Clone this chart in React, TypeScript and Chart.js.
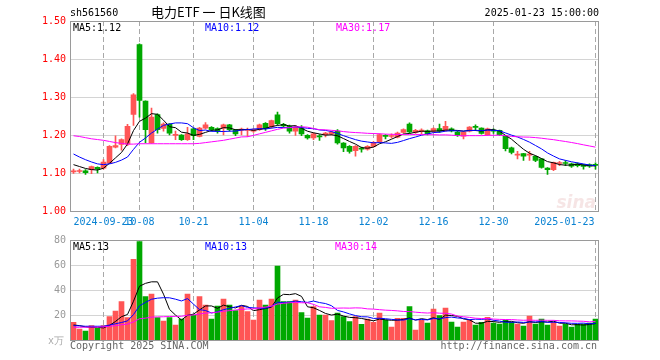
import React, { useEffect, useRef } from "react";
import { Chart, registerables } from "chart.js";

Chart.register(...registerables);

const dates = [
  "2024-09-12","2024-09-13","2024-09-18","2024-09-19","2024-09-20","2024-09-23","2024-09-24","2024-09-25","2024-09-26","2024-09-27","2024-09-30",
  "2024-10-08","2024-10-09","2024-10-10","2024-10-11","2024-10-14","2024-10-15","2024-10-16","2024-10-17","2024-10-18","2024-10-21","2024-10-22","2024-10-23","2024-10-24","2024-10-25","2024-10-28","2024-10-29","2024-10-30","2024-10-31",
  "2024-11-01","2024-11-04","2024-11-05","2024-11-06","2024-11-07","2024-11-08","2024-11-11","2024-11-12","2024-11-13","2024-11-14","2024-11-15","2024-11-18","2024-11-19","2024-11-20","2024-11-21","2024-11-22","2024-11-25","2024-11-26","2024-11-27","2024-11-28","2024-11-29",
  "2024-12-02","2024-12-03","2024-12-04","2024-12-05","2024-12-06","2024-12-09","2024-12-10","2024-12-11","2024-12-12","2024-12-13","2024-12-16","2024-12-17","2024-12-18","2024-12-19","2024-12-20","2024-12-23","2024-12-24","2024-12-25","2024-12-26","2024-12-27","2024-12-30","2024-12-31",
  "2025-01-02","2025-01-03","2025-01-06","2025-01-07","2025-01-08","2025-01-09","2025-01-10","2025-01-13","2025-01-14","2025-01-15","2025-01-16","2025-01-17","2025-01-20","2025-01-21","2025-01-22","2025-01-23"
];

const opens = [
  1.103,1.104,1.106,1.109,1.115,1.113,1.126,1.168,1.175,1.176,1.254,
  1.438,1.289,1.179,1.254,1.217,1.229,1.199,1.200,1.188,1.216,1.196,1.218,1.220,1.217,1.218,1.227,1.214,1.213,
  1.212,1.210,1.214,1.231,1.221,1.253,1.228,1.223,1.210,1.218,1.199,1.192,1.197,1.201,1.203,1.210,1.179,1.170,1.159,1.165,1.163,
  1.170,1.182,1.199,1.196,1.194,1.207,1.229,1.207,1.210,1.211,1.210,1.217,1.212,1.216,1.208,1.197,1.210,1.221,1.218,1.201,1.212,1.212,
  1.197,1.166,1.147,1.151,1.147,1.144,1.137,1.113,1.109,1.125,1.127,1.124,1.124,1.122,1.122,1.121
];
const highs = [
  1.110,1.110,1.109,1.118,1.116,1.135,1.172,1.198,1.190,1.228,1.309,
  1.440,1.290,1.271,1.256,1.232,1.230,1.210,1.201,1.220,1.218,1.220,1.233,1.222,1.219,1.229,1.228,1.215,1.218,
  1.218,1.216,1.229,1.233,1.239,1.260,1.231,1.226,1.224,1.225,1.201,1.206,1.201,1.207,1.210,1.214,1.180,1.172,1.172,1.168,1.172,
  1.183,1.203,1.201,1.203,1.208,1.216,1.232,1.215,1.216,1.213,1.219,1.229,1.236,1.219,1.210,1.209,1.222,1.227,1.219,1.218,1.216,1.213,
  1.198,1.168,1.157,1.152,1.157,1.145,1.138,1.114,1.129,1.131,1.133,1.126,1.127,1.123,1.124,1.127
];
const lows = [
  1.099,1.100,1.096,1.098,1.100,1.110,1.125,1.166,1.160,1.172,1.225,
  1.247,1.179,1.178,1.205,1.210,1.200,1.188,1.186,1.186,1.188,1.195,1.216,1.210,1.205,1.200,1.210,1.198,1.200,
  1.196,1.207,1.212,1.212,1.218,1.226,1.220,1.205,1.199,1.198,1.189,1.188,1.186,1.195,1.200,1.176,1.156,1.152,1.144,1.155,1.160,
  1.168,1.180,1.190,1.192,1.192,1.205,1.205,1.204,1.203,1.200,1.207,1.207,1.210,1.208,1.196,1.190,1.208,1.212,1.202,1.199,1.204,1.199,
  1.158,1.150,1.137,1.133,1.133,1.130,1.113,1.096,1.106,1.119,1.119,1.115,1.116,1.110,1.115,1.110
];
const closes = [
  1.105,1.105,1.101,1.117,1.111,1.129,1.170,1.172,1.188,1.223,1.306,
  1.291,1.214,1.247,1.214,1.229,1.205,1.201,1.188,1.203,1.198,1.218,1.227,1.214,1.211,1.227,1.214,1.203,1.215,
  1.215,1.214,1.227,1.217,1.238,1.230,1.224,1.210,1.221,1.203,1.192,1.203,1.195,1.205,1.208,1.179,1.166,1.157,1.170,1.163,1.170,
  1.181,1.201,1.196,1.197,1.205,1.214,1.208,1.212,1.211,1.203,1.217,1.210,1.223,1.211,1.199,1.208,1.221,1.220,1.204,1.216,1.210,1.201,
  1.164,1.154,1.149,1.144,1.149,1.133,1.115,1.109,1.128,1.126,1.125,1.118,1.119,1.117,1.118,1.120
];
// volume in 万
const volumes = [
  14.1,8.8,7.2,11.5,9.3,11.5,18.7,23.2,30.7,18,
  64.5,78.7,34.7,36.8,17.9,15.2,17.9,12,16.8,36.8,
  20,34.7,28,16.8,27.2,32.8,28,23.5,27.2,22.7,
  16,32,28,32.8,59.2,30.7,30.7,32,21.9,17.6,
  26.7,20,20,15.5,21.6,18.7,14.7,18.7,12.5,16.8,
  14.1,21.6,16,10.4,17.3,17.3,26.7,8,16,13.6,
  24.8,19.5,25.6,14.4,10.4,14.4,16,12,14.1,18.1,
  13.6,12.8,16,14.1,12.8,11.2,19.2,12.8,16.8,12,
  14.4,11.2,12.8,10.4,12.5,12.8,13.6,16.8
];

// moving-average values at the left edge (history before the first visible day)
const ma5Head = [1.122, 1.117, 1.112, 1.109];
const ma10Head = [1.150, 1.142, 1.135, 1.129, 1.124, 1.122, 1.124, 1.128, 1.134];
const ma30Head = [
  1.198,1.196,1.193,1.190,1.188,1.186,1.183,1.180,1.178,1.176,1.176,1.177,1.177,1.177,1.177,
  1.177,1.177,1.177,1.177,1.177,1.177,1.178,1.180,1.182,1.184,1.186,1.189,1.192,1.195
];
const volMa5Head = [12.0, 11.5, 10.5, 10.0];
const volMa10Head = [11.5, 11.3, 11.0, 11.0, 11.0, 11.0, 12.0, 13.0, 14.0];
const volMa30Head = [
  10.2,10.2,10.2,10.3,10.3,10.5,11.0,11.5,12.2,12.7,14.5,17.0,17.5,18.3,18.5,
  18.6,18.8,18.9,19.0,19.8,20.0,20.8,21.5,21.8,22.3,23.0,23.5,24.0,24.5
];

const priceTicks = [1.5, 1.4, 1.3, 1.2, 1.1, 1.0];
const volTicks = [80, 60, 40, 20];
const xTickDates = ["2024-09-23","2024-10-08","2024-10-21","2024-11-04","2024-11-18","2024-12-02","2024-12-16","2024-12-30","2025-01-23"];
const xTickLabels = ["2024-09-23","10-08","10-21","11-04","11-18","12-02","12-16","12-30","2025-01-23"];

const priceLegend = [
  { text: "MA5:1.12", color: "#000000", x: 73 },
  { text: "MA10:1.12", color: "#0000ff", x: 205 },
  { text: "MA30:1.17", color: "#ff00ff", x: 336 },
];
const volLegend = [
  { text: "MA5:13", color: "#000000", x: 73 },
  { text: "MA10:13", color: "#0000ff", x: 205 },
  { text: "MA30:14", color: "#ff00ff", x: 335 },
];

const RED = "#ff5555";
const GREEN = "#00a800";
const GRID = "#a8a8a8";
const BORDER = "#9a9a9a";
const MONO = '10px "DejaVu Sans Mono", "Liberation Mono", monospace';

function movingAvg(arr: number[], n: number, head: number[]) {
  return arr.map((_, i) => {
    if (i < head.length) return head[i];
    let s = 0;
    for (let k = i - n + 1; k <= i; k++) s += arr[k];
    return s / n;
  });
}

const upColors = closes.map((c, i) => (c >= opens[i] ? RED : GREEN));

function drawGrid(chart: any, yTicks: number[]) {
  const { ctx, chartArea: a, scales } = chart;
  ctx.save();
  ctx.strokeStyle = GRID;
  ctx.lineWidth = 1;
  ctx.setLineDash([1, 1]);
  for (const t of yTicks) {
    const y = Math.round(scales.y.getPixelForValue(t)) + 0.5;
    if (y <= a.top + 1 || y >= a.bottom - 1) continue;
    ctx.beginPath();
    ctx.moveTo(a.left, y);
    ctx.lineTo(a.right, y);
    ctx.stroke();
  }
  ctx.setLineDash([5, 3]);
  for (const d of xTickDates) {
    const idx = dates.indexOf(d);
    const x = Math.floor(scales.x.getPixelForValue(idx)) + 0.5;
    ctx.beginPath();
    ctx.moveTo(x, a.top);
    ctx.lineTo(x, a.bottom);
    ctx.stroke();
  }
  ctx.restore();
}

function drawBorder(chart: any) {
  const { ctx, chartArea: a } = chart;
  ctx.save();
  ctx.strokeStyle = BORDER;
  ctx.lineWidth = 1;
  ctx.setLineDash([]);
  const l = Math.floor(a.left) + 0.5;
  const t = Math.floor(a.top) + 0.5;
  const r = Math.floor(a.right) + 0.5;
  const b = Math.floor(a.bottom) + 0.5;
  ctx.strokeRect(l, t, r - l, b - t);
  ctx.restore();
}

const pricePlugin = {
  id: "pricePanel",
  beforeDatasetsDraw(chart: any) {
    drawGrid(chart, priceTicks);
    const { ctx } = chart;
    ctx.save();
    ctx.font = 'italic bold 17px "DejaVu Sans", sans-serif';
    ctx.fillStyle = "rgba(225,170,170,0.3)";
    ctx.textAlign = "right";
    ctx.textBaseline = "alphabetic";
    ctx.fillText("sina", 596, 208);
    ctx.restore();
  },
  afterDatasetsDraw(chart: any) {
    const { ctx, chartArea: a, scales } = chart;
    drawBorder(chart);
    ctx.save();
    ctx.textBaseline = "middle";
    ctx.font = MONO;
    // title row
    ctx.fillStyle = "#000";
    ctx.textAlign = "left";
    ctx.fillText("sh561560", 70, 13);
    ctx.textAlign = "right";
    ctx.fillText("2025-01-23 15:00:00", 599, 13);
    ctx.textAlign = "left";
    ctx.font = '13px "Noto Sans CJK SC", sans-serif';
    ctx.fillText("电力ETF 一 日K线图", 151, 12);
    // y labels
    ctx.font = MONO;
    ctx.textAlign = "right";
    ctx.fillStyle = "#ff0000";
    for (const t of priceTicks) {
      ctx.fillText(t.toFixed(2), 66, scales.y.getPixelForValue(t));
    }
    // legend
    ctx.textAlign = "left";
    for (const g of priceLegend) {
      ctx.fillStyle = g.color;
      ctx.fillText(g.text, g.x, a.top + 7);
    }
    // x labels
    ctx.fillStyle = "#0a82d2";
    xTickDates.forEach((d, k) => {
      const idx = dates.indexOf(d);
      const cx = scales.x.getPixelForValue(idx);
      const w = ctx.measureText(xTickLabels[k]).width;
      let x = cx - w / 2;
      if (x < a.left) x = a.left;
      if (x + w > a.right - 4) x = a.right - 4 - w;
      ctx.fillText(xTickLabels[k], x, a.bottom + 11);
    });
    ctx.restore();
  },
};

const volPlugin = {
  id: "volPanel",
  beforeDatasetsDraw(chart: any) {
    drawGrid(chart, volTicks);
  },
  afterDatasetsDraw(chart: any) {
    const { ctx, chartArea: a, scales } = chart;
    drawBorder(chart);
    ctx.save();
    ctx.textBaseline = "middle";
    ctx.font = MONO;
    ctx.textAlign = "right";
    ctx.fillStyle = "#999999";
    for (const t of volTicks) {
      ctx.fillText(String(t), 66, scales.y.getPixelForValue(t));
    }
    ctx.fillStyle = "#aaaaaa";
    ctx.fillText("x万", 64, a.bottom + 1);
    ctx.textAlign = "left";
    for (const g of volLegend) {
      ctx.fillStyle = g.color;
      ctx.fillText(g.text, g.x, a.top + 7);
    }
    ctx.fillStyle = "#666666";
    ctx.fillText("Copyright 2025 SINA.COM", 70, a.bottom + 6);
    ctx.textAlign = "right";
    ctx.fillText("http://finance.sina.com.cn", 597, a.bottom + 6);
    ctx.restore();
  },
};

function lineDs(data: number[], color: string) {
  return {
    type: "line" as const,
    data,
    borderColor: color,
    borderWidth: 1,
    pointRadius: 0,
    tension: 0,
    fill: false,
    order: 1,
  };
}

export default function App() {
  const priceRef = useRef<HTMLCanvasElement>(null);
  const volRef = useRef<HTMLCanvasElement>(null);

  useEffect(() => {
    const ma5 = movingAvg(closes, 5, ma5Head);
    const ma10 = movingAvg(closes, 10, ma10Head);
    const ma30 = movingAvg(closes, 30, ma30Head);
    const vma5 = movingAvg(volumes, 5, volMa5Head);
    const vma10 = movingAvg(volumes, 10, volMa10Head);
    const vma30 = movingAvg(volumes, 30, volMa30Head);

    const common: any = {
      animation: false,
      responsive: false,
      devicePixelRatio: 1,
      events: [],
      plugins: { legend: { display: false }, tooltip: { enabled: false } },
    };

    const priceChart = new Chart(priceRef.current as HTMLCanvasElement, {
      type: "bar",
      data: {
        labels: dates,
        datasets: [
          {
            type: "bar",
            data: lows.map((l, i) => [l, highs[i]]),
            backgroundColor: upColors,
            barThickness: 1,
            grouped: false,
            order: 3,
          } as any,
          {
            type: "bar",
            data: opens.map((o, i) => [Math.min(o, closes[i]), Math.max(o, closes[i])]),
            backgroundColor: upColors,
            barThickness: 5,
            minBarLength: 1,
            grouped: false,
            order: 2,
          } as any,
          lineDs(ma30, "#ff00ff"),
          lineDs(ma10, "#0000ff"),
          lineDs(ma5, "#000000"),
        ],
      },
      options: {
        ...common,
        layout: { padding: { left: 70.5, right: 61.5, top: 21, bottom: 21 } },
        scales: {
          x: { type: "category", display: false, offset: true },
          y: { type: "linear", display: false, min: 1.0, max: 1.5 },
        },
      },
      plugins: [pricePlugin],
    });

    const volChart = new Chart(volRef.current as HTMLCanvasElement, {
      type: "bar",
      data: {
        labels: dates,
        datasets: [
          {
            type: "bar",
            data: volumes,
            backgroundColor: upColors,
            barThickness: 5,
            grouped: false,
            order: 2,
          } as any,
          lineDs(vma30, "#ff00ff"),
          lineDs(vma10, "#0000ff"),
          lineDs(vma5, "#000000"),
        ],
      },
      options: {
        ...common,
        layout: { padding: { left: 70.5, right: 61.5, top: 8, bottom: 20 } },
        scales: {
          x: { type: "category", display: false, offset: true },
          y: { type: "linear", display: false, min: 0, max: 80 },
        },
      },
      plugins: [volPlugin],
    });

    return () => {
      priceChart.destroy();
      volChart.destroy();
    };
  }, []);

  return (
    <div style={{ position: "fixed", left: 0, top: 0, width: 660, height: 360, background: "#fff" }}>
      <canvas ref={priceRef} width={660} height={232} style={{ position: "absolute", left: 0, top: 0, display: "block" }} />
      <canvas ref={volRef} width={660} height={128} style={{ position: "absolute", left: 0, top: 232, display: "block" }} />
    </div>
  );
}
